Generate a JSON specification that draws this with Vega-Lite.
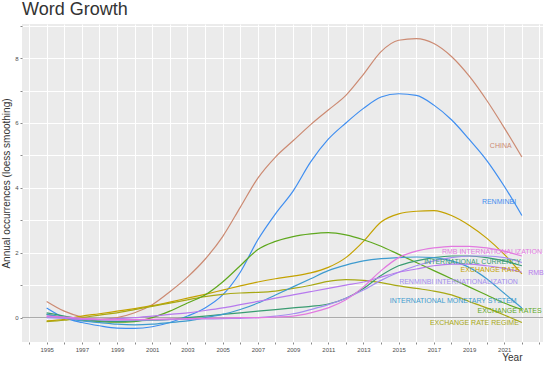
{
  "$schema": "https://vega.github.io/schema/vega-lite/v6.json",
  "autosize": {"type": "none"},
  "width": 521,
  "height": 318,
  "padding": {"left": 22, "top": 24, "right": 7, "bottom": 24},
  "background": "white",
  "title": {"text": "Word Growth", "anchor": "start", "frame": "group", "fontSize": 18, "fontWeight": "normal", "color": "#333333", "font": "Liberation Sans", "offset": 4},
  "config": {
    "view": {"fill": "#EBEBEB", "stroke": null},
    "font": "Liberation Sans"
  },
  "datasets": {
    "lines": [
      {"series":"CHINA","year":1995,"value":0.5},{"series":"CHINA","year":1996,"value":0.2},{"series":"CHINA","year":1997,"value":0.02},{"series":"CHINA","year":1998,"value":-0.05},{"series":"CHINA","year":1999,"value":0.0},{"series":"CHINA","year":2000,"value":0.15},{"series":"CHINA","year":2001,"value":0.4},{"series":"CHINA","year":2002,"value":0.8},{"series":"CHINA","year":2003,"value":1.25},{"series":"CHINA","year":2004,"value":1.8},{"series":"CHINA","year":2005,"value":2.5},{"series":"CHINA","year":2006,"value":3.4},{"series":"CHINA","year":2007,"value":4.3},{"series":"CHINA","year":2008,"value":4.95},{"series":"CHINA","year":2009,"value":5.45},{"series":"CHINA","year":2010,"value":5.95},{"series":"CHINA","year":2011,"value":6.4},{"series":"CHINA","year":2012,"value":6.85},{"series":"CHINA","year":2013,"value":7.5},{"series":"CHINA","year":2014,"value":8.2},{"series":"CHINA","year":2015,"value":8.55},{"series":"CHINA","year":2016,"value":8.6},{"series":"CHINA","year":2017,"value":8.45},{"series":"CHINA","year":2018,"value":8.05},{"series":"CHINA","year":2019,"value":7.45},{"series":"CHINA","year":2020,"value":6.7},{"series":"CHINA","year":2021,"value":5.85},{"series":"CHINA","year":2022,"value":4.95},
      {"series":"RENMINBI","year":1995,"value":0.3},{"series":"RENMINBI","year":1996,"value":0.0},{"series":"RENMINBI","year":1997,"value":-0.15},{"series":"RENMINBI","year":1998,"value":-0.25},{"series":"RENMINBI","year":1999,"value":-0.32},{"series":"RENMINBI","year":2000,"value":-0.33},{"series":"RENMINBI","year":2001,"value":-0.28},{"series":"RENMINBI","year":2002,"value":-0.15},{"series":"RENMINBI","year":2003,"value":0.05},{"series":"RENMINBI","year":2004,"value":0.3},{"series":"RENMINBI","year":2005,"value":0.7},{"series":"RENMINBI","year":2006,"value":1.4},{"series":"RENMINBI","year":2007,"value":2.4},{"series":"RENMINBI","year":2008,"value":3.2},{"series":"RENMINBI","year":2009,"value":3.9},{"series":"RENMINBI","year":2010,"value":4.8},{"series":"RENMINBI","year":2011,"value":5.5},{"series":"RENMINBI","year":2012,"value":6.0},{"series":"RENMINBI","year":2013,"value":6.45},{"series":"RENMINBI","year":2014,"value":6.8},{"series":"RENMINBI","year":2015,"value":6.9},{"series":"RENMINBI","year":2016,"value":6.85},{"series":"RENMINBI","year":2017,"value":6.55},{"series":"RENMINBI","year":2018,"value":6.1},{"series":"RENMINBI","year":2019,"value":5.5},{"series":"RENMINBI","year":2020,"value":4.85},{"series":"RENMINBI","year":2021,"value":4.05},{"series":"RENMINBI","year":2022,"value":3.15},
      {"series":"EXCHANGE RATE","year":1995,"value":-0.1},{"series":"EXCHANGE RATE","year":1996,"value":-0.05},{"series":"EXCHANGE RATE","year":1997,"value":0.05},{"series":"EXCHANGE RATE","year":1998,"value":0.12},{"series":"EXCHANGE RATE","year":1999,"value":0.2},{"series":"EXCHANGE RATE","year":2000,"value":0.28},{"series":"EXCHANGE RATE","year":2001,"value":0.37},{"series":"EXCHANGE RATE","year":2002,"value":0.48},{"series":"EXCHANGE RATE","year":2003,"value":0.6},{"series":"EXCHANGE RATE","year":2004,"value":0.72},{"series":"EXCHANGE RATE","year":2005,"value":0.85},{"series":"EXCHANGE RATE","year":2006,"value":0.98},{"series":"EXCHANGE RATE","year":2007,"value":1.1},{"series":"EXCHANGE RATE","year":2008,"value":1.2},{"series":"EXCHANGE RATE","year":2009,"value":1.28},{"series":"EXCHANGE RATE","year":2010,"value":1.38},{"series":"EXCHANGE RATE","year":2011,"value":1.55},{"series":"EXCHANGE RATE","year":2012,"value":1.85},{"series":"EXCHANGE RATE","year":2013,"value":2.35},{"series":"EXCHANGE RATE","year":2014,"value":2.95},{"series":"EXCHANGE RATE","year":2015,"value":3.2},{"series":"EXCHANGE RATE","year":2016,"value":3.28},{"series":"EXCHANGE RATE","year":2017,"value":3.3},{"series":"EXCHANGE RATE","year":2018,"value":3.15},{"series":"EXCHANGE RATE","year":2019,"value":2.85},{"series":"EXCHANGE RATE","year":2020,"value":2.45},{"series":"EXCHANGE RATE","year":2021,"value":1.95},{"series":"EXCHANGE RATE","year":2022,"value":1.35},
      {"series":"EXCHANGE RATE REGIME","year":1995,"value":-0.12},{"series":"EXCHANGE RATE REGIME","year":1996,"value":-0.08},{"series":"EXCHANGE RATE REGIME","year":1997,"value":0.0},{"series":"EXCHANGE RATE REGIME","year":1998,"value":0.08},{"series":"EXCHANGE RATE REGIME","year":1999,"value":0.15},{"series":"EXCHANGE RATE REGIME","year":2000,"value":0.25},{"series":"EXCHANGE RATE REGIME","year":2001,"value":0.35},{"series":"EXCHANGE RATE REGIME","year":2002,"value":0.45},{"series":"EXCHANGE RATE REGIME","year":2003,"value":0.55},{"series":"EXCHANGE RATE REGIME","year":2004,"value":0.65},{"series":"EXCHANGE RATE REGIME","year":2005,"value":0.72},{"series":"EXCHANGE RATE REGIME","year":2006,"value":0.76},{"series":"EXCHANGE RATE REGIME","year":2007,"value":0.78},{"series":"EXCHANGE RATE REGIME","year":2008,"value":0.82},{"series":"EXCHANGE RATE REGIME","year":2009,"value":0.9},{"series":"EXCHANGE RATE REGIME","year":2010,"value":1.0},{"series":"EXCHANGE RATE REGIME","year":2011,"value":1.12},{"series":"EXCHANGE RATE REGIME","year":2012,"value":1.17},{"series":"EXCHANGE RATE REGIME","year":2013,"value":1.15},{"series":"EXCHANGE RATE REGIME","year":2014,"value":1.08},{"series":"EXCHANGE RATE REGIME","year":2015,"value":0.98},{"series":"EXCHANGE RATE REGIME","year":2016,"value":0.9},{"series":"EXCHANGE RATE REGIME","year":2017,"value":0.82},{"series":"EXCHANGE RATE REGIME","year":2018,"value":0.7},{"series":"EXCHANGE RATE REGIME","year":2019,"value":0.5},{"series":"EXCHANGE RATE REGIME","year":2020,"value":0.3},{"series":"EXCHANGE RATE REGIME","year":2021,"value":0.08},{"series":"EXCHANGE RATE REGIME","year":2022,"value":-0.15},
      {"series":"EXCHANGE RATES","year":1995,"value":0.1},{"series":"EXCHANGE RATES","year":1996,"value":0.0},{"series":"EXCHANGE RATES","year":1997,"value":-0.08},{"series":"EXCHANGE RATES","year":1998,"value":-0.12},{"series":"EXCHANGE RATES","year":1999,"value":-0.14},{"series":"EXCHANGE RATES","year":2000,"value":-0.12},{"series":"EXCHANGE RATES","year":2001,"value":0.0},{"series":"EXCHANGE RATES","year":2002,"value":0.2},{"series":"EXCHANGE RATES","year":2003,"value":0.45},{"series":"EXCHANGE RATES","year":2004,"value":0.7},{"series":"EXCHANGE RATES","year":2005,"value":1.1},{"series":"EXCHANGE RATES","year":2006,"value":1.6},{"series":"EXCHANGE RATES","year":2007,"value":2.1},{"series":"EXCHANGE RATES","year":2008,"value":2.35},{"series":"EXCHANGE RATES","year":2009,"value":2.5},{"series":"EXCHANGE RATES","year":2010,"value":2.58},{"series":"EXCHANGE RATES","year":2011,"value":2.62},{"series":"EXCHANGE RATES","year":2012,"value":2.55},{"series":"EXCHANGE RATES","year":2013,"value":2.4},{"series":"EXCHANGE RATES","year":2014,"value":2.2},{"series":"EXCHANGE RATES","year":2015,"value":1.95},{"series":"EXCHANGE RATES","year":2016,"value":1.7},{"series":"EXCHANGE RATES","year":2017,"value":1.45},{"series":"EXCHANGE RATES","year":2018,"value":1.2},{"series":"EXCHANGE RATES","year":2019,"value":0.95},{"series":"EXCHANGE RATES","year":2020,"value":0.7},{"series":"EXCHANGE RATES","year":2021,"value":0.45},{"series":"EXCHANGE RATES","year":2022,"value":0.25},
      {"series":"INTERNATIONAL CURRENCY","year":1995,"value":0.15},{"series":"INTERNATIONAL CURRENCY","year":1996,"value":0.05},{"series":"INTERNATIONAL CURRENCY","year":1997,"value":-0.05},{"series":"INTERNATIONAL CURRENCY","year":1998,"value":-0.1},{"series":"INTERNATIONAL CURRENCY","year":1999,"value":-0.12},{"series":"INTERNATIONAL CURRENCY","year":2000,"value":-0.1},{"series":"INTERNATIONAL CURRENCY","year":2001,"value":-0.08},{"series":"INTERNATIONAL CURRENCY","year":2002,"value":-0.05},{"series":"INTERNATIONAL CURRENCY","year":2003,"value":0.0},{"series":"INTERNATIONAL CURRENCY","year":2004,"value":0.05},{"series":"INTERNATIONAL CURRENCY","year":2005,"value":0.1},{"series":"INTERNATIONAL CURRENCY","year":2006,"value":0.15},{"series":"INTERNATIONAL CURRENCY","year":2007,"value":0.2},{"series":"INTERNATIONAL CURRENCY","year":2008,"value":0.25},{"series":"INTERNATIONAL CURRENCY","year":2009,"value":0.3},{"series":"INTERNATIONAL CURRENCY","year":2010,"value":0.35},{"series":"INTERNATIONAL CURRENCY","year":2011,"value":0.42},{"series":"INTERNATIONAL CURRENCY","year":2012,"value":0.6},{"series":"INTERNATIONAL CURRENCY","year":2013,"value":0.9},{"series":"INTERNATIONAL CURRENCY","year":2014,"value":1.3},{"series":"INTERNATIONAL CURRENCY","year":2015,"value":1.6},{"series":"INTERNATIONAL CURRENCY","year":2016,"value":1.75},{"series":"INTERNATIONAL CURRENCY","year":2017,"value":1.85},{"series":"INTERNATIONAL CURRENCY","year":2018,"value":1.9},{"series":"INTERNATIONAL CURRENCY","year":2019,"value":1.9},{"series":"INTERNATIONAL CURRENCY","year":2020,"value":1.85},{"series":"INTERNATIONAL CURRENCY","year":2021,"value":1.75},{"series":"INTERNATIONAL CURRENCY","year":2022,"value":1.6},
      {"series":"INTERNATIONAL MONETARY SYSTEM","year":1995,"value":0.1},{"series":"INTERNATIONAL MONETARY SYSTEM","year":1996,"value":0.0},{"series":"INTERNATIONAL MONETARY SYSTEM","year":1997,"value":-0.1},{"series":"INTERNATIONAL MONETARY SYSTEM","year":1998,"value":-0.15},{"series":"INTERNATIONAL MONETARY SYSTEM","year":1999,"value":-0.2},{"series":"INTERNATIONAL MONETARY SYSTEM","year":2000,"value":-0.22},{"series":"INTERNATIONAL MONETARY SYSTEM","year":2001,"value":-0.2},{"series":"INTERNATIONAL MONETARY SYSTEM","year":2002,"value":-0.15},{"series":"INTERNATIONAL MONETARY SYSTEM","year":2003,"value":-0.1},{"series":"INTERNATIONAL MONETARY SYSTEM","year":2004,"value":0.0},{"series":"INTERNATIONAL MONETARY SYSTEM","year":2005,"value":0.1},{"series":"INTERNATIONAL MONETARY SYSTEM","year":2006,"value":0.25},{"series":"INTERNATIONAL MONETARY SYSTEM","year":2007,"value":0.45},{"series":"INTERNATIONAL MONETARY SYSTEM","year":2008,"value":0.7},{"series":"INTERNATIONAL MONETARY SYSTEM","year":2009,"value":0.95},{"series":"INTERNATIONAL MONETARY SYSTEM","year":2010,"value":1.2},{"series":"INTERNATIONAL MONETARY SYSTEM","year":2011,"value":1.45},{"series":"INTERNATIONAL MONETARY SYSTEM","year":2012,"value":1.62},{"series":"INTERNATIONAL MONETARY SYSTEM","year":2013,"value":1.75},{"series":"INTERNATIONAL MONETARY SYSTEM","year":2014,"value":1.82},{"series":"INTERNATIONAL MONETARY SYSTEM","year":2015,"value":1.85},{"series":"INTERNATIONAL MONETARY SYSTEM","year":2016,"value":1.87},{"series":"INTERNATIONAL MONETARY SYSTEM","year":2017,"value":1.85},{"series":"INTERNATIONAL MONETARY SYSTEM","year":2018,"value":1.75},{"series":"INTERNATIONAL MONETARY SYSTEM","year":2019,"value":1.55},{"series":"INTERNATIONAL MONETARY SYSTEM","year":2020,"value":1.2},{"series":"INTERNATIONAL MONETARY SYSTEM","year":2021,"value":0.75},{"series":"INTERNATIONAL MONETARY SYSTEM","year":2022,"value":0.3},
      {"series":"RENMINBI INTERNATIONALIZATION","year":1995,"value":0.0},{"series":"RENMINBI INTERNATIONALIZATION","year":1996,"value":-0.02},{"series":"RENMINBI INTERNATIONALIZATION","year":1997,"value":-0.05},{"series":"RENMINBI INTERNATIONALIZATION","year":1998,"value":-0.07},{"series":"RENMINBI INTERNATIONALIZATION","year":1999,"value":-0.08},{"series":"RENMINBI INTERNATIONALIZATION","year":2000,"value":-0.08},{"series":"RENMINBI INTERNATIONALIZATION","year":2001,"value":-0.07},{"series":"RENMINBI INTERNATIONALIZATION","year":2002,"value":-0.06},{"series":"RENMINBI INTERNATIONALIZATION","year":2003,"value":-0.05},{"series":"RENMINBI INTERNATIONALIZATION","year":2004,"value":-0.04},{"series":"RENMINBI INTERNATIONALIZATION","year":2005,"value":-0.03},{"series":"RENMINBI INTERNATIONALIZATION","year":2006,"value":-0.02},{"series":"RENMINBI INTERNATIONALIZATION","year":2007,"value":0.0},{"series":"RENMINBI INTERNATIONALIZATION","year":2008,"value":0.05},{"series":"RENMINBI INTERNATIONALIZATION","year":2009,"value":0.12},{"series":"RENMINBI INTERNATIONALIZATION","year":2010,"value":0.25},{"series":"RENMINBI INTERNATIONALIZATION","year":2011,"value":0.4},{"series":"RENMINBI INTERNATIONALIZATION","year":2012,"value":0.6},{"series":"RENMINBI INTERNATIONALIZATION","year":2013,"value":0.85},{"series":"RENMINBI INTERNATIONALIZATION","year":2014,"value":1.15},{"series":"RENMINBI INTERNATIONALIZATION","year":2015,"value":1.4},{"series":"RENMINBI INTERNATIONALIZATION","year":2016,"value":1.6},{"series":"RENMINBI INTERNATIONALIZATION","year":2017,"value":1.75},{"series":"RENMINBI INTERNATIONALIZATION","year":2018,"value":1.85},{"series":"RENMINBI INTERNATIONALIZATION","year":2019,"value":1.9},{"series":"RENMINBI INTERNATIONALIZATION","year":2020,"value":1.9},{"series":"RENMINBI INTERNATIONALIZATION","year":2021,"value":1.85},{"series":"RENMINBI INTERNATIONALIZATION","year":2022,"value":1.7},
      {"series":"RMB","year":1995,"value":0.05},{"series":"RMB","year":1996,"value":0.0},{"series":"RMB","year":1997,"value":-0.05},{"series":"RMB","year":1998,"value":-0.05},{"series":"RMB","year":1999,"value":-0.03},{"series":"RMB","year":2000,"value":0.0},{"series":"RMB","year":2001,"value":0.05},{"series":"RMB","year":2002,"value":0.1},{"series":"RMB","year":2003,"value":0.15},{"series":"RMB","year":2004,"value":0.22},{"series":"RMB","year":2005,"value":0.3},{"series":"RMB","year":2006,"value":0.4},{"series":"RMB","year":2007,"value":0.5},{"series":"RMB","year":2008,"value":0.6},{"series":"RMB","year":2009,"value":0.7},{"series":"RMB","year":2010,"value":0.8},{"series":"RMB","year":2011,"value":0.9},{"series":"RMB","year":2012,"value":1.0},{"series":"RMB","year":2013,"value":1.1},{"series":"RMB","year":2014,"value":1.25},{"series":"RMB","year":2015,"value":1.4},{"series":"RMB","year":2016,"value":1.5},{"series":"RMB","year":2017,"value":1.6},{"series":"RMB","year":2018,"value":1.65},{"series":"RMB","year":2019,"value":1.65},{"series":"RMB","year":2020,"value":1.6},{"series":"RMB","year":2021,"value":1.52},{"series":"RMB","year":2022,"value":1.4},
      {"series":"RMB INTERNATIONALIZATION","year":1995,"value":0.05},{"series":"RMB INTERNATIONALIZATION","year":1996,"value":0.02},{"series":"RMB INTERNATIONALIZATION","year":1997,"value":-0.02},{"series":"RMB INTERNATIONALIZATION","year":1998,"value":-0.05},{"series":"RMB INTERNATIONALIZATION","year":1999,"value":-0.06},{"series":"RMB INTERNATIONALIZATION","year":2000,"value":-0.06},{"series":"RMB INTERNATIONALIZATION","year":2001,"value":-0.05},{"series":"RMB INTERNATIONALIZATION","year":2002,"value":-0.04},{"series":"RMB INTERNATIONALIZATION","year":2003,"value":-0.03},{"series":"RMB INTERNATIONALIZATION","year":2004,"value":-0.02},{"series":"RMB INTERNATIONALIZATION","year":2005,"value":-0.01},{"series":"RMB INTERNATIONALIZATION","year":2006,"value":0.0},{"series":"RMB INTERNATIONALIZATION","year":2007,"value":0.0},{"series":"RMB INTERNATIONALIZATION","year":2008,"value":0.02},{"series":"RMB INTERNATIONALIZATION","year":2009,"value":0.05},{"series":"RMB INTERNATIONALIZATION","year":2010,"value":0.15},{"series":"RMB INTERNATIONALIZATION","year":2011,"value":0.3},{"series":"RMB INTERNATIONALIZATION","year":2012,"value":0.55},{"series":"RMB INTERNATIONALIZATION","year":2013,"value":0.95},{"series":"RMB INTERNATIONALIZATION","year":2014,"value":1.45},{"series":"RMB INTERNATIONALIZATION","year":2015,"value":1.85},{"series":"RMB INTERNATIONALIZATION","year":2016,"value":2.05},{"series":"RMB INTERNATIONALIZATION","year":2017,"value":2.15},{"series":"RMB INTERNATIONALIZATION","year":2018,"value":2.2},{"series":"RMB INTERNATIONALIZATION","year":2019,"value":2.2},{"series":"RMB INTERNATIONALIZATION","year":2020,"value":2.15},{"series":"RMB INTERNATIONALIZATION","year":2021,"value":2.05},{"series":"RMB INTERNATIONALIZATION","year":2022,"value":1.9}
    ],
    "labels": [
      {"series":"CHINA","year":2020.8,"value":5.3},
      {"series":"RENMINBI","year":2020.7,"value":3.55},
      {"series":"RMB INTERNATIONALIZATION","year":2020.3,"value":2.03},
      {"series":"INTERNATIONAL CURRENCY","year":2019.2,"value":1.73},
      {"series":"EXCHANGE RATE","year":2020.2,"value":1.46},
      {"series":"RMB","year":2022.8,"value":1.38},
      {"series":"RENMINBI INTERNATIONALIZATION","year":2018.4,"value":1.1},
      {"series":"INTERNATIONAL MONETARY SYSTEM","year":2018.1,"value":0.5},
      {"series":"EXCHANGE RATES","year":2021.3,"value":0.22},
      {"series":"EXCHANGE RATE REGIME","year":2019.3,"value":-0.15}
    ]
  },
  "layer": [
    {
      "data": {"values": [{}]},
      "mark": {"type": "rule", "color": "#8c8c8c", "strokeWidth": 0.8},
      "encoding": {
        "y": {
          "datum": 0, "type": "quantitative",
          "scale": {"domain": [-0.75, 9.05], "nice": false, "zero": false},
          "axis": {
            "title": "Annual occurrences (loess smoothing)", "titleFontSize": 10, "titleFontWeight": "normal", "titleColor": "#333333",
            "titlePadding": 3,
            "values": [0,1,2,3,4,5,6,7,8,9],
            "labelExpr": "datum.value % 2 == 0 ? toString(datum.value) : ''",
            "labelOverlap": false,
            "labelFontSize": 6, "labelColor": "#4d4d4d", "labelPadding": 2,
            "tickColor": "#888888", "tickSize": 2, "domain": false,
            "grid": true, "gridColor": "#ffffff", "gridWidth": 1
          }
        }
      }
    },
    {
      "data": {"name": "lines"},
      "mark": {"type": "line", "interpolate": "monotone", "strokeWidth": 1.2},
      "encoding": {
        "x": {
          "field": "year", "type": "quantitative",
          "scale": {"domain": [1993.6, 2023.2], "nice": false, "zero": false},
          "axis": {
            "title": "Year", "titleFontSize": 10, "titleFontWeight": "normal", "titleColor": "#333333",
            "titleAnchor": "end", "titleX": 500, "titleY": 10, "titleAlign": "right", "titleBaseline": "top",
            "values": [1994,1995,1996,1997,1998,1999,2000,2001,2002,2003,2004,2005,2006,2007,2008,2009,2010,2011,2012,2013,2014,2015,2016,2017,2018,2019,2020,2021,2022,2023],
            "labelExpr": "(datum.value % 2 == 1 && datum.value <= 2021) ? toString(datum.value) : ''",
            "labelOverlap": false,
            "labelFontSize": 6, "labelColor": "#4d4d4d", "labelPadding": 2,
            "tickColor": "#888888", "tickSize": 2, "domain": false,
            "grid": true, "gridColor": "#ffffff", "gridWidth": 1
          }
        },
        "y": {
          "field": "value", "type": "quantitative",
          "scale": {"domain": [-0.75, 9.05], "nice": false, "zero": false},
          "axis": {
            "title": "Annual occurrences (loess smoothing)", "titleFontSize": 10, "titleFontWeight": "normal", "titleColor": "#333333",
            "titlePadding": 3,
            "values": [0,1,2,3,4,5,6,7,8,9],
            "labelExpr": "datum.value % 2 == 0 ? toString(datum.value) : ''",
            "labelOverlap": false,
            "labelFontSize": 6, "labelColor": "#4d4d4d", "labelPadding": 2,
            "tickColor": "#888888", "tickSize": 2, "domain": false,
            "grid": true, "gridColor": "#ffffff", "gridWidth": 1
          }
        },
        "color": {
          "field": "series", "type": "nominal", "legend": null,
          "scale": {
            "domain": ["CHINA","EXCHANGE RATE","EXCHANGE RATE REGIME","EXCHANGE RATES","INTERNATIONAL CURRENCY","INTERNATIONAL MONETARY SYSTEM","RENMINBI","RENMINBI INTERNATIONALIZATION","RMB","RMB INTERNATIONALIZATION"],
            "range": ["#CC8A72","#C4A200","#A8A814","#5FA81E","#3A9C72","#3E9BCF","#3F8EF0","#A48EF0","#B77AEE","#E27AE0"]
          }
        }
      }
    },
    {
      "data": {"name": "labels"},
      "mark": {"type": "text", "fontSize": 7, "align": "center", "baseline": "middle"},
      "encoding": {
        "x": {
          "field": "year", "type": "quantitative",
          "scale": {"domain": [1993.6, 2023.2], "nice": false, "zero": false},
          "axis": {
            "title": "Year", "titleFontSize": 10, "titleFontWeight": "normal", "titleColor": "#333333",
            "titleAnchor": "end", "titleX": 500, "titleY": 10, "titleAlign": "right", "titleBaseline": "top",
            "values": [1994,1995,1996,1997,1998,1999,2000,2001,2002,2003,2004,2005,2006,2007,2008,2009,2010,2011,2012,2013,2014,2015,2016,2017,2018,2019,2020,2021,2022,2023],
            "labelExpr": "(datum.value % 2 == 1 && datum.value <= 2021) ? toString(datum.value) : ''",
            "labelOverlap": false,
            "labelFontSize": 6, "labelColor": "#4d4d4d", "labelPadding": 2,
            "tickColor": "#888888", "tickSize": 2, "domain": false,
            "grid": true, "gridColor": "#ffffff", "gridWidth": 1
          }
        },
        "y": {
          "field": "value", "type": "quantitative",
          "scale": {"domain": [-0.75, 9.05], "nice": false, "zero": false},
          "axis": {
            "title": "Annual occurrences (loess smoothing)", "titleFontSize": 10, "titleFontWeight": "normal", "titleColor": "#333333",
            "titlePadding": 3,
            "values": [0,1,2,3,4,5,6,7,8,9],
            "labelExpr": "datum.value % 2 == 0 ? toString(datum.value) : ''",
            "labelOverlap": false,
            "labelFontSize": 6, "labelColor": "#4d4d4d", "labelPadding": 2,
            "tickColor": "#888888", "tickSize": 2, "domain": false,
            "grid": true, "gridColor": "#ffffff", "gridWidth": 1
          }
        },
        "text": {"field": "series"},
        "color": {"field": "series", "type": "nominal", "legend": null}
      }
    }
  ]
}
